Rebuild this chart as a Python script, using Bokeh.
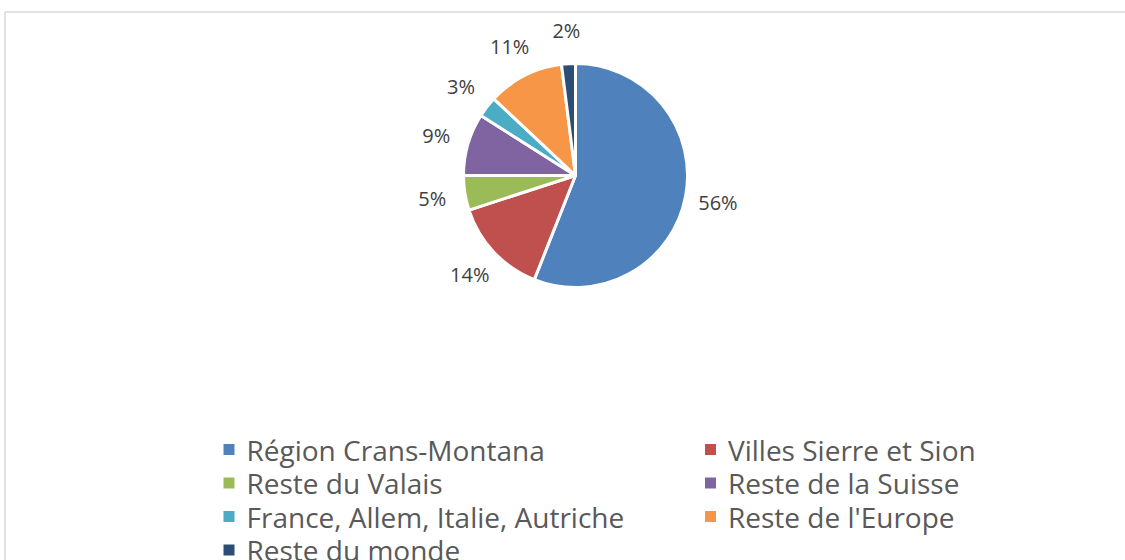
import math
from bokeh.plotting import figure
from bokeh.models import Range1d, ColumnDataSource
from bokeh.core.properties import value
from bokeh.embed import file_html
from bokeh.resources import INLINE

# ---- data ----
categories = ["Région Crans-Montana", "Villes Sierre et Sion", "Reste du Valais",
              "Reste de la Suisse", "France, Allem, Italie, Autriche",
              "Reste de l'Europe", "Reste du monde"]
shares = [56, 14, 5, 9, 3, 11, 2]
pct_labels = ["56%", "14%", "5%", "9%", "3%", "11%", "2%"]
colors = ["#4F81BD", "#C0504D", "#9BBB59", "#8064A2", "#4BACC6", "#F79646", "#2C4D75"]

# ---- layout (pixels) ----
W, H = 1125, 560
def sx(X):
    return X
def sy(Y):
    return H - Y

cx, cy, R = sx(575), sy(175), 112
label_r = 145

p = figure(width=W, height=H, x_range=Range1d(0, W), y_range=Range1d(0, H),
           output_backend="svg", toolbar_location=None, min_border=0,
           x_axis_location=None, y_axis_location=None)
p.grid.visible = False
p.outline_line_color = None
p.background_fill_color = "white"
p.border_fill_color = "white"

# chart border (frame)
p.line([sx(4.5), W], [sy(11.5), sy(11.5)], line_color="#D9D9D9", line_width=1.5)
p.line([sx(4.5), sx(4.5)], [0, sy(11.5)], line_color="#D9D9D9", line_width=1.5)

total = float(sum(shares))
starts, ends, lx, ly = [], [], [], []
cum = 0.0
for s in shares:
    a0 = math.pi / 2 - 2 * math.pi * cum / total
    a1 = math.pi / 2 - 2 * math.pi * (cum + s) / total
    mid = math.pi / 2 - 2 * math.pi * (cum + s / 2) / total
    starts.append(a1)
    ends.append(a0)
    lx.append(cx + label_r * math.cos(mid))
    ly.append(cy + label_r * math.sin(mid))
    cum += s

src = ColumnDataSource(dict(x=[cx] * len(shares), y=[cy] * len(shares),
                            start=starts, end=ends, color=colors,
                            lx=lx, ly=ly, lab=pct_labels))
p.wedge(x="x", y="y", radius=R, radius_units="screen", start_angle="start", end_angle="end",
        fill_color="color", line_color="white", line_width=3, source=src)
p.text(x="lx", y="ly", text="lab", source=src, text_align="center", text_baseline="middle",
       text_font=value("Open Sans"), text_font_size="20px", text_color="#404040")

# legend (manual, row-major 2 columns)
col_x = [sx(228.5), sx(710)]
row_y0, row_h = 449, 33.5
leg_sx, leg_sy, leg_tx, leg_ty = [], [], [], []
for i, c in enumerate(categories):
    col, row = i % 2, i // 2
    X = col_x[col]
    Y = sy(row_y0 + row * row_h)
    leg_sx.append(X)
    leg_sy.append(Y)
    leg_tx.append(X + 17.5)
    leg_ty.append(Y)
lsrc = ColumnDataSource(dict(x=leg_sx, y=leg_sy, tx=leg_tx, ty=leg_ty, color=colors, name=categories))
p.rect(x="x", y="y", width=11, height=11, width_units="screen", height_units="screen",
       fill_color="color", line_color=None, source=lsrc)
p.text(x="tx", y="ty", text="name", source=lsrc, text_align="left", text_baseline="middle",
       text_font=value("Open Sans"), text_font_size="28px", text_color="#595959")

open("out.html", "w").write(file_html(p, INLINE))
